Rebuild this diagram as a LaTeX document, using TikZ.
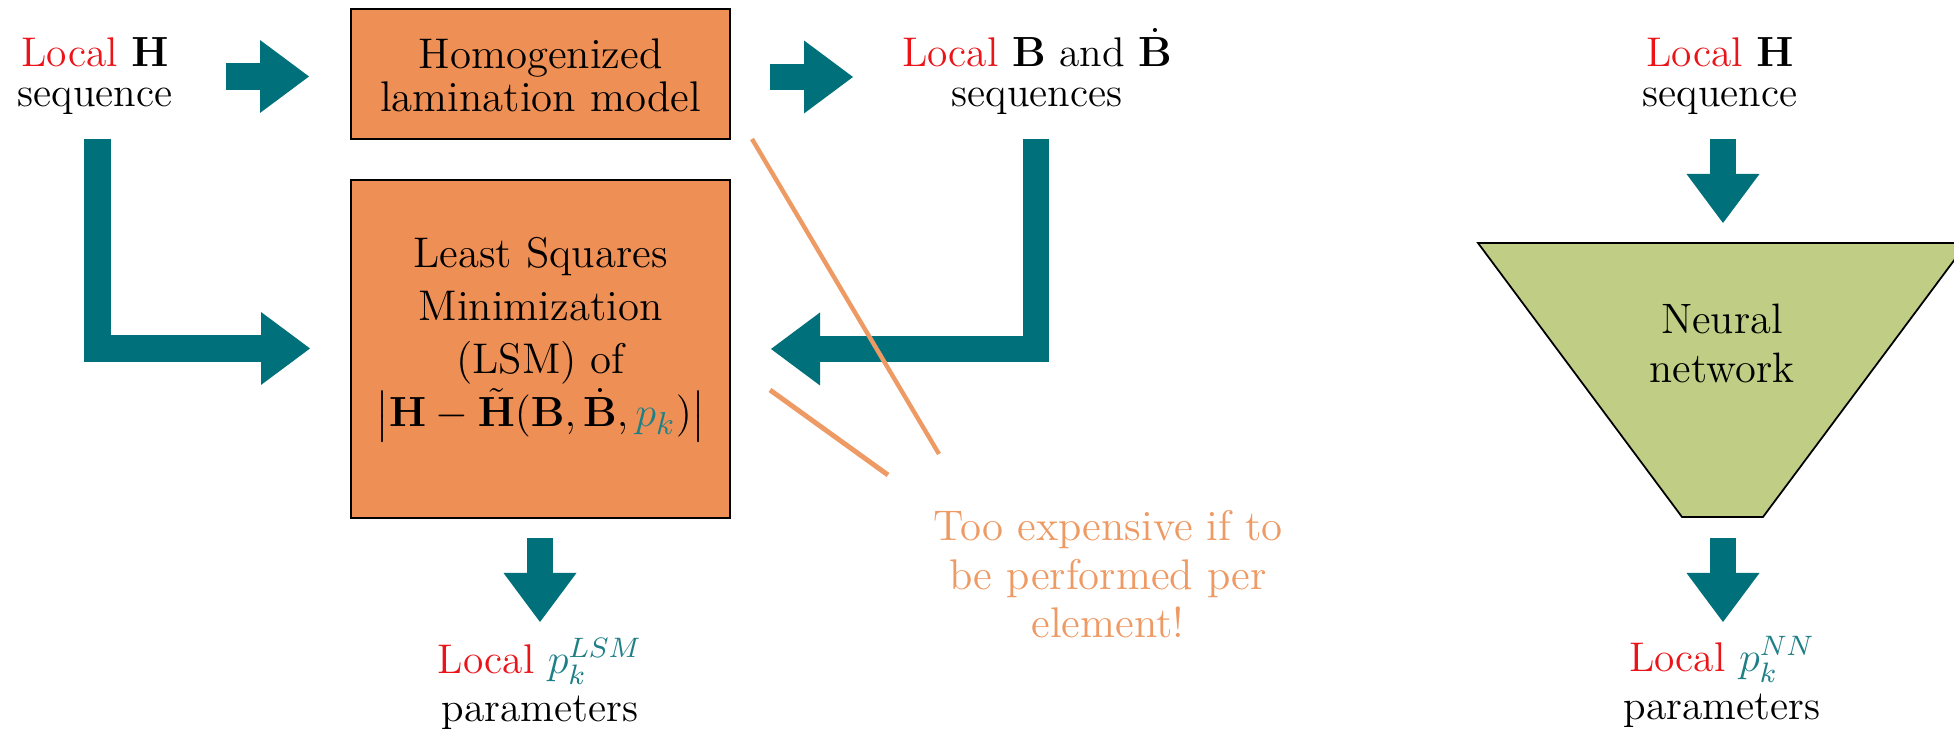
\documentclass[tikz,border=0pt]{standalone}
\usepackage{amsmath}
\usetikzlibrary{arrows.meta}
\definecolor{boxor}{RGB}{238,144,86}
\definecolor{tealA}{RGB}{0,112,123}
\definecolor{nngreen}{RGB}{192,205,133}
\definecolor{noteor}{RGB}{238,154,100}
\definecolor{pteal}{RGB}{30,128,134}
\definecolor{locred}{RGB}{235,20,24}
\begin{document}
\begin{tikzpicture}[x=0.1mm,y=-0.1mm,
  font=\fontsize{11.8}{11.4}\selectfont,
  lbl/.style={align=center, inner sep=0pt, anchor=base},
  procbox/.style={draw=black, line width=0.6pt, fill=boxor, inner sep=0pt, minimum width=37.9mm},
  blockarrow/.style={draw=tealA, line width=2.65mm, line join=miter,
    -{Triangle[width=7.3mm,length=4.9mm,line width=0pt]}},
  crossline/.style={draw=noteor, line width=1.25pt},
]
\useasboundingbox (0,0) rectangle (1954,731);

% ---------------- left part ----------------
% (anchor=base of a multi-line node = baseline of its last line)
\node[lbl] (hin) at (95,107) {\textcolor{locred}{Local} $\mathbf{H}$\\sequence};
\node[procbox, minimum height=13mm] (hom) at (540.5,74) {};
\node[lbl, font=\fontsize{12.2}{12.5}\selectfont] (homtxt) at (540.5,112)
  {Homogenized\\lamination model};
\node[lbl] (bseq) at (1037,107) {\textcolor{locred}{Local} $\mathbf{B}$ and $\dot{\mathbf{B}}$\\sequences};
\node[procbox, minimum height=33.8mm] (lsm) at (540.5,349) {};
\node[lbl, font=\fontsize{12.2}{15.1}\selectfont] (lsmtxt) at (540.5,427)
  {Least Squares\\Minimization\\(LSM) of\\$\bigl|\mathbf{H}-\tilde{\mathbf{H}}(\mathbf{B},\dot{\mathbf{B}},\textcolor{pteal}{p_k})\bigr|$};
\node[lbl, font=\fontsize{11.8}{13.9}\selectfont] (plsm) at (540,722)
  {\textcolor{locred}{Local} $\textcolor{pteal}{p_k^{LSM}}$\\parameters};

% arrow end points
\coordinate (a1s) at (226,76.5);  \coordinate (a1e) at (309,76.5);
\coordinate (a2s) at (770,77);    \coordinate (a2e) at (853,77);
\coordinate (a3s) at (97.5,139);  \coordinate (a3e) at (310,348.5);
\coordinate (a4s) at (1036,139);  \coordinate (a4e) at (771,349);
\coordinate (a5s) at (540,538);   \coordinate (a5e) at (540,622);

\draw[blockarrow] (a1s) -- (a1e);
\draw[blockarrow] (a2s) -- (a2e);
\draw[blockarrow] (a3s) |- (a3e);
\draw[blockarrow] (a4s) |- (a4e);
\draw[blockarrow] (a5s) -- (a5e);

% crossing-out lines and note
\coordinate (c1s) at (752,139); \coordinate (c1e) at (939,454);
\coordinate (c2s) at (770,390); \coordinate (c2e) at (888,475);
\draw[crossline] (c1s) -- (c1e);
\draw[crossline, line width=1.4pt] (c2s) -- (c2e);
\node[lbl, text=noteor, font=\fontsize{12.2}{13.9}\selectfont] (note) at (1108,638)
  {Too expensive if to\\be performed per\\element!};

% ---------------- right part ----------------
\node[lbl] (hin2) at (1720,107) {\textcolor{locred}{Local} $\mathbf{H}$\\sequence};
\filldraw[fill=nngreen, draw=black, line width=0.5pt]
  (1478,243) -- (1967,243) -- (1763,517) -- (1682,517) -- cycle;
\node[lbl, font=\fontsize{12.1}{14.2}\selectfont] (nn) at (1722,383) {Neural\\network};
\node[lbl, font=\fontsize{11.8}{13.9}\selectfont] (pnn) at (1722,720)
  {\textcolor{locred}{Local} $\textcolor{pteal}{p_k^{NN}}$\\parameters};

\coordinate (a6s) at (1723,139);  \coordinate (a6e) at (1723,223);
\coordinate (a7s) at (1723,538);  \coordinate (a7e) at (1723,622);
\draw[blockarrow] (a6s) -- (a6e);
\draw[blockarrow] (a7s) -- (a7e);
\end{tikzpicture}
\end{document}
